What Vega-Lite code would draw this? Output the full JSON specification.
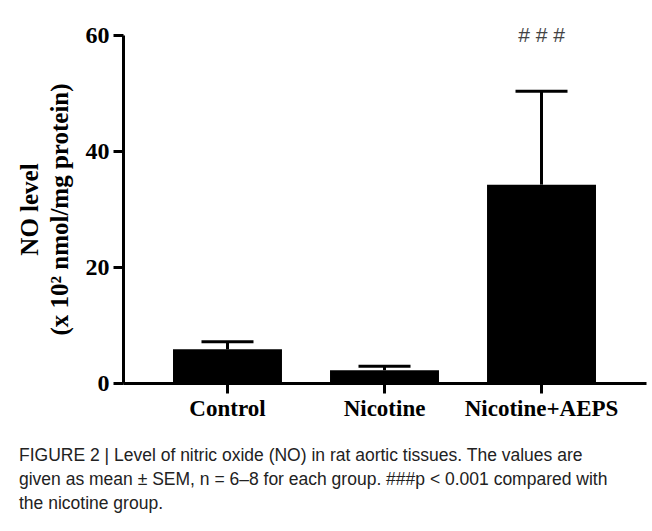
{
  "$schema": "https://vega.github.io/schema/vega-lite/v6.json",
  "autosize": "none",
  "padding": {"left": 123, "top": 35, "right": 6, "bottom": 148},
  "width": 523,
  "height": 348,
  "background": "white",
  "config": {"view": {"stroke": null}},
  "title": {
    "text": [
      "FIGURE 2 | Level of nitric oxide (NO) in rat aortic tissues. The values are",
      "given as mean ± SEM, n = 6–8 for each group. ###p < 0.001 compared with",
      "the nicotine group."
    ],
    "orient": "bottom",
    "anchor": "start",
    "frame": "bounds",
    "offset": 27,
    "dx": 2,
    "font": "Liberation Sans",
    "fontSize": 17.5,
    "fontWeight": "normal",
    "color": "#222222",
    "lineHeight": 24
  },
  "data": {
    "values": [
      {"group": "Control", "mean": 5.8, "upper": 7.1, "sig": null, "sigY": null},
      {"group": "Nicotine", "mean": 2.2, "upper": 2.9, "sig": null, "sigY": null},
      {"group": "Nicotine+AEPS", "mean": 34.2, "upper": 50.3, "sig": "# # #", "sigY": 59.8}
    ]
  },
  "encoding": {
    "x": {
      "field": "group",
      "type": "nominal",
      "sort": null,
      "scale": {"paddingInner": 0.306, "paddingOuter": 0.3185},
      "axis": {
        "title": null,
        "labelAngle": 0,
        "labelFont": "Liberation Serif",
        "labelFontWeight": "bold",
        "labelFontSize": 23,
        "labelColor": "black",
        "labelPadding": 4,
        "tickSize": 10,
        "tickWidth": 3,
        "tickColor": "black",
        "domainWidth": 3,
        "domainColor": "black"
      }
    }
  },
  "layer": [
    {
      "mark": {"type": "bar", "color": "black"},
      "encoding": {
        "y": {
          "field": "mean",
          "type": "quantitative",
          "scale": {"domain": [0, 60], "nice": false},
          "axis": {
            "title": ["NO level", "(x 10² nmol/mg protein)"],
            "titleFont": "Liberation Serif",
            "titleFontWeight": "bold",
            "titleFontSize": 25,
            "titleColor": "black",
            "titleLineHeight": 30,
            "titlePadding": 13,
            "values": [0, 20, 40, 60],
            "grid": false,
            "labelFont": "Liberation Serif",
            "labelFontWeight": "bold",
            "labelFontSize": 24,
            "labelColor": "black",
            "labelPadding": 4,
            "tickSize": 10,
            "tickWidth": 3,
            "tickColor": "black",
            "domainWidth": 3,
            "domainColor": "black"
          }
        }
      }
    },
    {
      "mark": {"type": "rule", "color": "black", "strokeWidth": 3},
      "encoding": {
        "y": {"field": "mean", "type": "quantitative"},
        "y2": {"field": "upper"}
      }
    },
    {
      "mark": {"type": "tick", "color": "black", "opacity": 1, "thickness": 3, "size": 52},
      "encoding": {
        "y": {"field": "upper", "type": "quantitative"}
      }
    },
    {
      "transform": [{"filter": "datum.sig != null"}],
      "mark": {"type": "text", "font": "Liberation Sans", "fontSize": 21, "color": "#444444", "baseline": "middle"},
      "encoding": {
        "y": {"field": "sigY", "type": "quantitative"},
        "text": {"field": "sig"}
      }
    }
  ]
}
